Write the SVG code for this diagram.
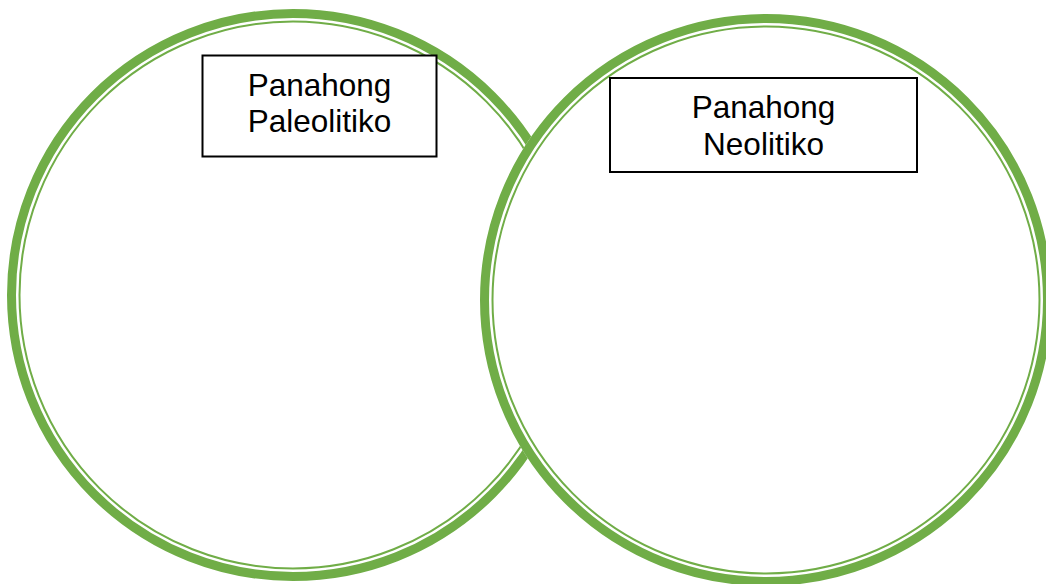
<svg xmlns="http://www.w3.org/2000/svg" width="1046" height="584" viewBox="0 0 1046 584">
  <style>
    .thick { fill: none; stroke: #70ad47; stroke-width: 9; }
    .thin { fill: none; stroke: #70ad47; stroke-width: 2; }
    .bg { fill: #ffffff; stroke: none; }
    .box { fill: #ffffff; stroke: #000000; stroke-width: 2; }
    .label { font-family: "Liberation Sans", Arial, sans-serif; font-size: 31.5px; fill: #000000; text-anchor: middle; }
  </style>
  <rect x="0" y="0" width="1046" height="584" fill="#ffffff"/>
  <g id="circle-left">
    <circle class="bg" cx="293" cy="295" r="286"/>
    <circle class="thick" cx="293" cy="295" r="281.5"/>
    <circle class="thin" cx="293" cy="295" r="273.5"/>
  </g>
  <g id="circle-right">
    <circle class="bg" cx="766" cy="300" r="286"/>
    <circle class="thick" cx="766" cy="300" r="281.5"/>
    <circle class="thin" cx="766" cy="300" r="273.5"/>
  </g>
  <g id="box-paleolitiko">
    <rect class="box" x="202.5" y="55.5" width="234" height="101"/>
    <text class="label" x="319.5" y="96">Panahong</text>
    <text class="label" x="319.5" y="132">Paleolitiko</text>
  </g>
  <g id="box-neolitiko">
    <rect class="box" x="610" y="78" width="307" height="94"/>
    <text class="label" x="763.5" y="118">Panahong</text>
    <text class="label" x="763.5" y="155">Neolitiko</text>
  </g>
  <g id="connectors"></g>
</svg>
